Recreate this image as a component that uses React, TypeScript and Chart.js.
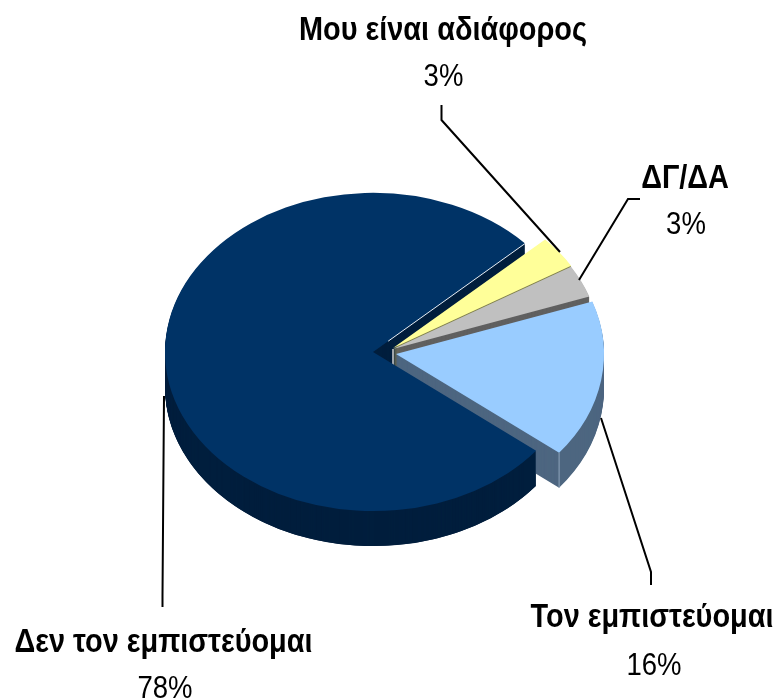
import React, { useEffect, useRef } from "react";
import { Chart, registerables } from "chart.js";

Chart.register(...registerables);

// Data (label order clockwise from the top of the pie)
const categories = ["Μου είναι αδιάφορος", "ΔΓ/ΔΑ", "Τον εμπιστεύομαι", "Δεν τον εμπιστεύομαι"];
const sliceValues = [3.3, 3.3, 16, 77.4];
const percentLabels = ["3%", "3%", "16%", "78%"];

// Styling
const topColors = ["#FFFF99", "#C0C0C0", "#99CCFF", "#003366"];
const wallColors = ["#80804D", "#606060", "#4D6680", "#001E3D"];
const sliceShifts = [[3, -1], [3, 0], [6, 5], [-17, 3]];
const namePlaces = [[443, 40], [685, 188], [652, 627], [163.5, 652]];
const percentPlaces = [[443.5, 86], [686, 234], [654, 675], [165, 698]];
const leaders = [
  [[441.5, 105], [441.5, 120], [560, 252]],
  [[640, 199], [628, 199], [579, 280]],
  [[601, 418], [651, 572], [651, 585]],
  [[164, 396], [162.5, 595], [162.5, 607]],
];
const TILT = 0.765;
const DEPTH = 35;
const RADIUS = 208;
const ROTATION = 47;
const FONT = '"Liberation Sans", Arial, sans-serif';

function paint(ctx: any, arc: any, i: number, color: string, depth: number, sweepFrac = 1) {
  const [dx, dy] = sliceShifts[i];
  const saved = { o: arc.options, e: arc.endAngle, c: arc.circumference };
  ctx.save();
  ctx.translate(arc.x + dx, arc.y + dy + depth);
  ctx.scale(1, TILT);
  ctx.translate(-arc.x, -arc.y);
  arc.options = { ...saved.o, backgroundColor: color, borderColor: color, borderWidth: 0 };
  arc.circumference = saved.c * sweepFrac;
  arc.endAngle = arc.startAngle + arc.circumference;
  arc.draw(ctx);
  arc.options = saved.o;
  arc.endAngle = saved.e;
  arc.circumference = saved.c;
  ctx.restore();
}

function wall(ctx: any, arc: any, i: number, sweepFrac = 1) {
  for (let d = DEPTH; d >= 1; d--) paint(ctx, arc, i, wallColors[i], d, sweepFrac);
}

function rim(arc: any, i: number, angle: number, r: number) {
  const [dx, dy] = sliceShifts[i];
  return [arc.x + dx + r * Math.cos(angle), arc.y + dy + TILT * r * Math.sin(angle)];
}

function segment(ctx: any, a: number[], b: number[], color: string, width: number) {
  ctx.strokeStyle = color;
  ctx.lineWidth = width;
  ctx.beginPath();
  ctx.moveTo(a[0], a[1]);
  ctx.lineTo(b[0], b[1]);
  ctx.stroke();
}

function squeezedText(ctx: any, text: string, x: number, y: number, font: string, sx: number) {
  ctx.save();
  ctx.translate(x, y);
  ctx.scale(sx, 1);
  ctx.font = font;
  ctx.fillText(text, 0, 0);
  ctx.restore();
}

const pie3d = {
  id: "pie3d",
  beforeDatasetsDraw(chart: any) {
    const ctx = chart.ctx;
    const arcs = chart.getDatasetMeta(0).data;
    const [yellow, gray, blue, dark] = [0, 1, 2, 3];

    wall(ctx, arcs[dark], dark);
    wall(ctx, arcs[yellow], yellow);
    wall(ctx, arcs[gray], gray);
    const grayTip = rim(arcs[gray], gray, arcs[gray].startAngle, 0);
    segment(ctx, grayTip, [grayTip[0], grayTip[1] + DEPTH], "#D0D0D0", 1.5);
    wall(ctx, arcs[blue], blue);
    const corner = rim(arcs[blue], blue, arcs[blue].endAngle, arcs[blue].outerRadius);
    segment(ctx, corner, [corner[0], corner[1] + DEPTH], "#8FA5BC", 1);
    wall(ctx, arcs[dark], dark, 0.5);

    paint(ctx, arcs[dark], dark, topColors[dark], 0);
    const a0 = rim(arcs[dark], dark, arcs[dark].endAngle, 0);
    const a1 = rim(arcs[dark], dark, arcs[dark].endAngle, arcs[dark].outerRadius);
    segment(ctx, [a0[0] + (a1[0] - a0[0]) * 0.1, a0[1] + (a1[1] - a0[1]) * 0.1], a1, "#E8EEF4", 1);

    paint(ctx, arcs[yellow], yellow, topColors[yellow], 0);
    paint(ctx, arcs[gray], gray, topColors[gray], 0);
    paint(ctx, arcs[blue], blue, topColors[blue], 0);

    leaders.forEach((pts) => {
      ctx.strokeStyle = "#000";
      ctx.lineWidth = 2;
      ctx.beginPath();
      pts.forEach((p, k) => (k ? ctx.lineTo(p[0], p[1]) : ctx.moveTo(p[0], p[1])));
      ctx.stroke();
    });

    ctx.fillStyle = "#000";
    ctx.textAlign = "center";
    ctx.textBaseline = "alphabetic";
    categories.forEach((name, i) => {
      squeezedText(ctx, name, namePlaces[i][0], namePlaces[i][1], `bold 33px ${FONT}`, 0.875);
      squeezedText(ctx, percentLabels[i], percentPlaces[i][0], percentPlaces[i][1], `32px ${FONT}`, 0.86);
    });
    return false;
  },
};

export default function App() {
  const ref = useRef<HTMLCanvasElement | null>(null);
  useEffect(() => {
    const chart = new Chart(ref.current as HTMLCanvasElement, {
      type: "pie",
      data: {
        labels: categories,
        datasets: [{ data: sliceValues, backgroundColor: topColors, borderWidth: 0 }],
      },
      options: {
        responsive: false,
        animation: false,
        rotation: ROTATION,
        radius: RADIUS,
        layout: { padding: 0 },
        plugins: { legend: { display: false }, tooltip: { enabled: false } },
      } as any,
      plugins: [pie3d as any],
    });
    return () => chart.destroy();
  }, []);
  return (
    <canvas
      ref={ref}
      width={780}
      height={698}
      style={{ position: "absolute", left: 0, top: 0, display: "block" }}
    />
  );
}
